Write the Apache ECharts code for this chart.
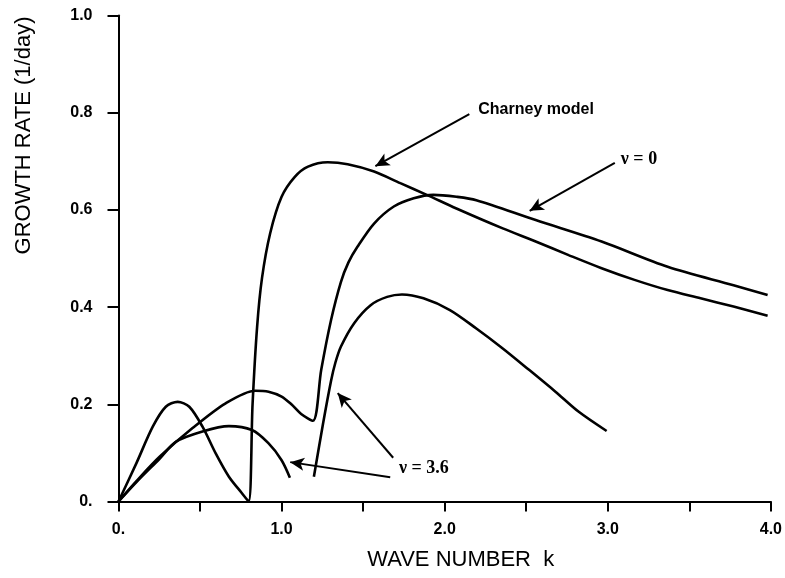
<!DOCTYPE html>
<html>
<head>
<meta charset="utf-8">
<script src="https://cdn.jsdelivr.net/npm/echarts@6/dist/echarts.min.js"></script>
<style>
  html, body { margin: 0; padding: 0; background: #fff; }
  #chart { width: 785px; height: 578px; }
</style>
</head>
<body>
<div id="chart"></div>
<script>
// wave number k / growth rate (1/day)
const charneyK = [0, 0.11, 0.21, 0.29, 0.363, 0.434, 0.515, 0.596, 0.677, 0.757, 0.798, 0.822, 0.85, 0.88, 0.93, 1.0, 1.081, 1.162, 1.283, 1.405, 1.567, 1.728, 1.89, 2.072, 2.356, 2.558, 2.76, 2.962, 3.164, 3.367, 3.569, 3.771, 3.98]
const charneyG = [0, 0.079, 0.154, 0.195, 0.205, 0.195, 0.154, 0.099, 0.051, 0.017, 0, 0.2, 0.36, 0.46, 0.552, 0.627, 0.668, 0.689, 0.698, 0.694, 0.679, 0.655, 0.631, 0.603, 0.562, 0.535, 0.507, 0.48, 0.456, 0.435, 0.418, 0.401, 0.382]

const nu0K = [0, 0.11, 0.252, 0.454, 0.657, 0.839, 0.92, 1.0, 1.06, 1.12, 1.192, 1.243, 1.303, 1.364, 1.41, 1.465, 1.567, 1.688, 1.81, 1.93, 2.072, 2.194, 2.558, 2.962, 3.367, 3.771, 3.98]
const nu0G = [0, 0.042, 0.092, 0.151, 0.202, 0.228, 0.226, 0.216, 0.2, 0.18, 0.166, 0.271, 0.373, 0.452, 0.492, 0.524, 0.572, 0.607, 0.624, 0.631, 0.627, 0.62, 0.579, 0.535, 0.483, 0.445, 0.425]

// two branches, null keeps them apart
const nu36K = [0, 0.11, 0.252, 0.353, 0.515, 0.677, 0.818, 0.919, 1.0, 1.051, 1.12, 1.198, 1.254, 1.303, 1.33, 1.364, 1.445, 1.546, 1.647, 1.738, 1.87, 2.032, 2.194, 2.356, 2.517, 2.679, 2.82, 2.993]
const nu36G = [0, 0.04, 0.088, 0.123, 0.144, 0.155, 0.147, 0.12, 0.085, 0.049, null, 0.051, 0.16, 0.248, 0.286, 0.319, 0.367, 0.404, 0.421, 0.426, 0.418, 0.394, 0.356, 0.315, 0.271, 0.226, 0.185, 0.145]

const yTicks = [0, 0.2, 0.4, 0.6, 0.8, 1.0]
const xTicks = [0, 1, 2, 3, 4]

// annotations: arrow tail -> head, in data units
const arrows = [
  [[2.151, 0.797], [1.575, 0.69]],
  [[3.043, 0.697], [2.521, 0.598]],
  [[1.684, 0.09], [1.344, 0.223]],
  [[1.666, 0.05], [1.053, 0.081]]
]
const notes = [
  { text: 'Charney model', at: [2.206, 0.806], serif: false },
  { text: 'ν = 0', at: [3.08, 0.703], serif: true },
  { text: 'ν = 3.6', at: [1.72, 0.069], serif: true }
]

const zip = (ks, gs) => ks.map((k, i) => [k, gs[i]])
const tickText = v => v === 0 ? '0.' : v.toFixed(1)

let chart = echarts.init(document.getElementById('chart'))

const curve = (name, ks, gs) => ({
  name: name,
  type: 'line',
  data: zip(ks, gs),
  showSymbol: false,
  smooth: 0.3,
  connectNulls: false,
  lineStyle: { color: '#000', width: 2.6 },
  animation: false
})

let option = {
  backgroundColor: '#fff',
  textStyle: { fontFamily: 'Liberation Sans' },
  grid: { left: 118.5, right: 8, top: 15.5, bottom: 76.5 },
  xAxis: {
    type: 'value',
    min: 0,
    max: 4,
    interval: 0.5,
    name: 'WAVE NUMBER  k',
    nameLocation: 'middle',
    nameGap: 47,
    nameTextStyle: { color: '#000', fontSize: 22, padding: [0, 0, 0, 32] },
    axisLine: { onZero: false, lineStyle: { color: '#000', width: 2 } },
    axisTick: { inside: false, length: 10, lineStyle: { color: '#000', width: 2 } },
    axisLabel: {
      margin: 20,
      color: '#000',
      fontSize: 16,
      fontWeight: 'bold',
      formatter: v => xTicks.indexOf(v) >= 0 ? tickText(v) : ''
    },
    splitLine: { show: false }
  },
  yAxis: {
    type: 'value',
    min: 0,
    max: 1,
    interval: 0.2,
    name: 'GROWTH RATE (1/day)',
    nameLocation: 'middle',
    nameGap: 84,
    nameTextStyle: { color: '#000', fontSize: 22, padding: [0, 0, 0, 246] },
    axisLine: { onZero: false, lineStyle: { color: '#000', width: 2 } },
    axisTick: { inside: false, length: 11, lineStyle: { color: '#000', width: 2 } },
    axisLabel: {
      margin: 26,
      color: '#000',
      fontSize: 16,
      fontWeight: 'bold',
      formatter: v => yTicks.some(t => Math.abs(t - v) < 1e-9) ? tickText(v) : ''
    },
    splitLine: { show: false }
  },
  series: [
    curve('Charney model', charneyK, charneyG),
    curve('ν = 0', nu0K, nu0G),
    curve('ν = 3.6', nu36K, nu36G),
    {
      name: 'arrows',
      type: 'line',
      data: [],
      animation: false,
      markLine: {
        silent: true,
        animation: false,
        symbol: ['none', 'arrow'],
        symbolSize: [10, 14],
        label: { show: false },
        lineStyle: { color: '#000', width: 2, type: 'solid' },
        data: arrows.map(a => [{ coord: a[0] }, { coord: a[1] }])
      }
    }
  ]
}
chart.setOption(option)

// labels for the arrows
let texts = notes.map(n => {
  const p = chart.convertToPixel({ gridIndex: 0 }, n.at)
  return {
    type: 'text',
    x: p[0],
    y: p[1],
    silent: true,
    style: {
      text: n.text,
      fill: '#000',
      verticalAlign: 'middle',
      align: 'left',
      font: n.serif ? 'bold 18px "Liberation Serif"' : 'bold 16px "Liberation Sans"'
    }
  }
})
chart.setOption({ graphic: texts })
</script>
</body>
</html>
